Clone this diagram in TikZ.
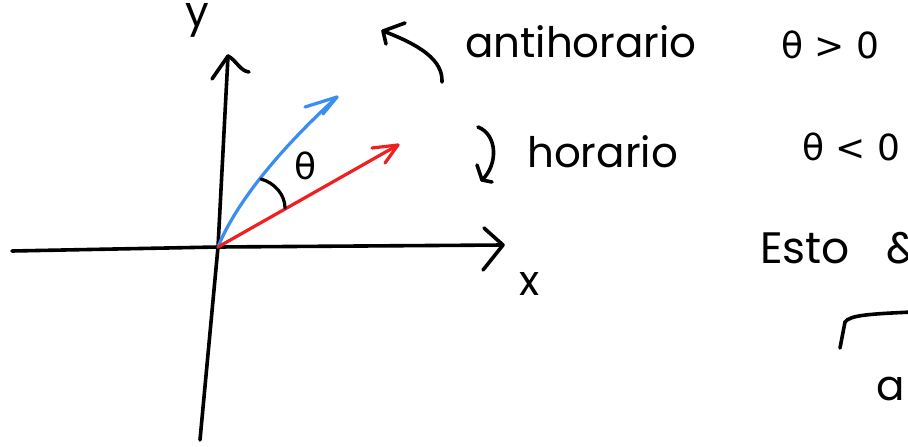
\documentclass[tikz,border=0pt]{standalone}
\usepackage{fontspec}
\setmainfont{Poppins}
\newfontfamily\grk{DejaVu Sans}
\definecolor{vblue}{RGB}{58,142,240}
\definecolor{vred}{RGB}{240,32,32}
\begin{document}
\begin{tikzpicture}[x=1pt,y=-1pt, line cap=round, line join=round,
  ink/.style={line width=3.6pt, draw=black},
  bluevec/.style={line width=3.2pt, draw=vblue},
  redvec/.style={line width=3.2pt, draw=vred},
  hand/.style={inner sep=0pt, anchor=base west, font=\fontsize{42}{48}\selectfont},
  mathlbl/.style={inner sep=0pt, font=\fontsize{36}{44}\grk}]
\useasboundingbox (0,0) rectangle (908,447);
\clip (0,0) rectangle (908,447);
\fill[white] (0,0) rectangle (908,447);
% axes
\coordinate (O) at (218,247);
\coordinate (xl) at (12,251);
\coordinate (xr) at (503,245);
\coordinate (xh1) at (484,228);
\coordinate (xh2) at (483,270);
\coordinate (yb) at (200,440);
\coordinate (yt) at (228,56);
\coordinate (yh1) at (212,79);
\coordinate (yh2) at (249,72);
\draw[ink] (xl) -- (O) -- (xr);
\draw[ink] (xh1) -- (xr) -- (xh2);
\draw[ink] (yb) -- (O) -- (yt);
\draw[ink] (yh1) -- (yt) .. controls (236,60) and (240,71) .. (yh2);
\node[hand, anchor=center] (ylbl) at (197,20) {y};
\node[hand, anchor=center] (xlbl) at (530,284) {x};
% vectors
\coordinate (bt) at (337,97);
\coordinate (bh1) at (305,107);
\coordinate (bh2) at (323,114);
\draw[bluevec] (O) .. controls (232,212) and (268,160) .. (bt);
\draw[bluevec] (bh1) -- (bt) -- (bh2);
\coordinate (rt) at (398,145);
\coordinate (rh1) at (372,148);
\coordinate (rh2) at (385,163);
\draw[redvec] (O) -- (rt);
\draw[redvec] (rh1) -- (rt) -- (rh2);
% angle arc
\coordinate (a1) at (261,179);
\coordinate (a2) at (285,208);
\draw[ink, line width=3.2pt] (a1) .. controls (275,183) and (285,195) .. (a2);
\node[mathlbl, font=\fontsize{36}{40}\grk] (th) at (306,166) {θ};
% counterclockwise arrow
\coordinate (ct) at (442,82);
\coordinate (ch) at (383,31);
\coordinate (ch1) at (405,23);
\coordinate (ch2) at (386,44);
\draw[ink] (ct) .. controls (443,60) and (420,45) .. (ch);
\draw[ink] (ch1) -- (ch) -- (ch2);
\node[hand] (anti) at (465,57) {antihorario};
\node[mathlbl] (gt) at (830,45) {θ > 0};
% clockwise arrow
\coordinate (kt) at (478,127);
\coordinate (kh) at (482,180);
\coordinate (kh1) at (477,165);
\coordinate (kh2) at (492,182);
\draw[ink] (kt) .. controls (498,135) and (498,165) .. (kh);
\draw[ink] (kh1) -- (kh) -- (kh2);
\node[hand] (hor) at (527,167) {horario};
\node[mathlbl] (lt) at (851,147) {θ < 0};
% bottom right
\node[hand, font=\fontsize{44}{50}\selectfont] (esto) at (760,263) {Esto};
\node[hand, font=\fontsize{44}{50}\selectfont] (amp) at (886,263) {\&};
\coordinate (b1) at (840,348);
\coordinate (b2) at (845,322);
\coordinate (b3) at (912,312);
\draw[ink] (b1) -- (b2) .. controls (850,315) and (870,314) .. (b3);
\node[hand] (alet) at (876,400) {a};
\end{tikzpicture}
\end{document}
